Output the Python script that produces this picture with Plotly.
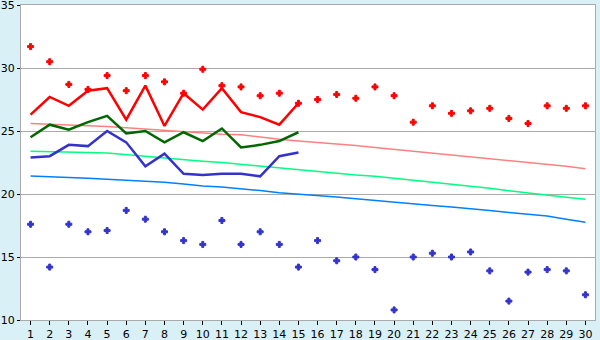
import plotly.graph_objects as go

days = list(range(1, 31))

rec_max = [31.7, 30.5, 28.7, 28.3, 29.4, 28.2, 29.4, 28.9, 28.0, 29.9,
           28.6, 28.5, 27.8, 28.0, 27.2, 27.5, 27.9, 27.6, 28.5, 27.8,
           25.7, 27.0, 26.4, 26.6, 26.8, 26.0, 25.6, 27.0, 26.8, 27.0]
rec_min = [17.6, 14.2, 17.6, 17.0, 17.1, 18.7, 18.0, 17.0, 16.3, 16.0,
           17.9, 16.0, 17.0, 16.0, 14.2, 16.3, 14.7, 15.0, 14.0, 10.8,
           15.0, 15.3, 15.0, 15.4, 13.9, 11.5, 13.8, 14.0, 13.9, 12.0]

obs_days = list(range(1, 16))
obs_max = [26.3, 27.7, 27.0, 28.2, 28.4, 25.9, 28.6, 25.4, 28.0, 26.7,
           28.4, 26.5, 26.1, 25.5, 27.2]
obs_mean = [24.5, 25.5, 25.1, 25.7, 26.2, 24.8, 25.0, 24.1, 24.9, 24.2,
            25.2, 23.7, 23.9, 24.2, 24.9]
obs_min = [22.9, 23.0, 23.9, 23.8, 25.0, 24.1, 22.2, 23.2, 21.6, 21.5,
           21.6, 21.6, 21.4, 23.0, 23.3]

norm_max = [25.6, 25.55, 25.5, 25.45, 25.35, 25.25, 25.15, 25.0, 24.9, 24.8,
            24.75, 24.7, 24.5, 24.35, 24.2, 24.1, 24.0, 23.85, 23.7, 23.55,
            23.4, 23.25, 23.1, 23.0, 22.85, 22.7, 22.55, 22.35, 22.2, 22.0]
norm_mean = [23.4, 23.38, 23.35, 23.3, 23.25, 23.15, 23.0, 22.85, 22.7, 22.6,
             22.5, 22.35, 22.2, 22.05, 21.9, 21.75, 21.62, 21.5, 21.4, 21.25,
             21.1, 20.95, 20.8, 20.62, 20.45, 20.25, 20.1, 19.92, 19.75, 19.58]
norm_min = [21.43, 21.38, 21.3, 21.25, 21.17, 21.1, 21.02, 20.93, 20.8, 20.63,
            20.55, 20.44, 20.27, 20.1, 20.0, 19.88, 19.76, 19.62, 19.48, 19.32,
            19.2, 19.08, 18.97, 18.85, 18.7, 18.53, 18.4, 18.25, 18.0, 17.75]

y_ticks = [10, 15, 20, 25, 30, 35]

fig = go.Figure()
fig.add_trace(go.Scatter(x=days, y=norm_max, mode="lines", line=dict(color="#FF8080", width=1.5)))
fig.add_trace(go.Scatter(x=days, y=norm_mean, mode="lines", line=dict(color="#00FF80", width=1.5)))
fig.add_trace(go.Scatter(x=days, y=norm_min, mode="lines", line=dict(color="#0080FF", width=1.5)))
fig.add_trace(go.Scatter(x=obs_days, y=obs_max, mode="lines", line=dict(color="#FF0000", width=2.5)))
fig.add_trace(go.Scatter(x=obs_days, y=obs_mean, mode="lines", line=dict(color="#006600", width=2.5)))
fig.add_trace(go.Scatter(x=obs_days, y=obs_min, mode="lines", line=dict(color="#3333CC", width=2.5)))
fig.add_trace(go.Scatter(x=days, y=rec_max, mode="markers",
                         marker=dict(symbol="cross", size=5, color="#FF0000",
                                     line=dict(width=1, color="#FF0000"))))
fig.add_trace(go.Scatter(x=days, y=rec_min, mode="markers",
                         marker=dict(symbol="cross", size=5, color="#3333CC",
                                     line=dict(width=1, color="#3333CC"))))

fig.update_layout(
    width=600, height=340,
    margin=dict(l=21, r=5, t=5, b=20),
    paper_bgcolor="#DAF0F7",
    plot_bgcolor="#FFFFFF",
    showlegend=False,
    font=dict(family="DejaVu Sans", size=11, color="#000000"),
)
fig.update_xaxes(
    range=[0.5, 30.5], tickmode="array", tickvals=days, ticktext=[str(d) for d in days],
    showgrid=False, zeroline=False, automargin=False,
    showline=True, linecolor="#AAAAAA", linewidth=1, mirror=True,
    ticks="outside", ticklen=4, tickcolor="#000000", ticklabelstandoff=0,
)
fig.update_yaxes(
    range=[10, 35.0001], tickmode="array", tickvals=y_ticks, ticktext=[str(v) for v in y_ticks],
    showgrid=True, gridcolor="#AAAAAA", gridwidth=1, zeroline=False, automargin=False,
    showline=True, linecolor="#AAAAAA", linewidth=1, mirror=True,
    ticks="outside", ticklen=3, tickcolor="#000000", ticklabeloverflow="allow",
)
fig.write_html("out.html")
